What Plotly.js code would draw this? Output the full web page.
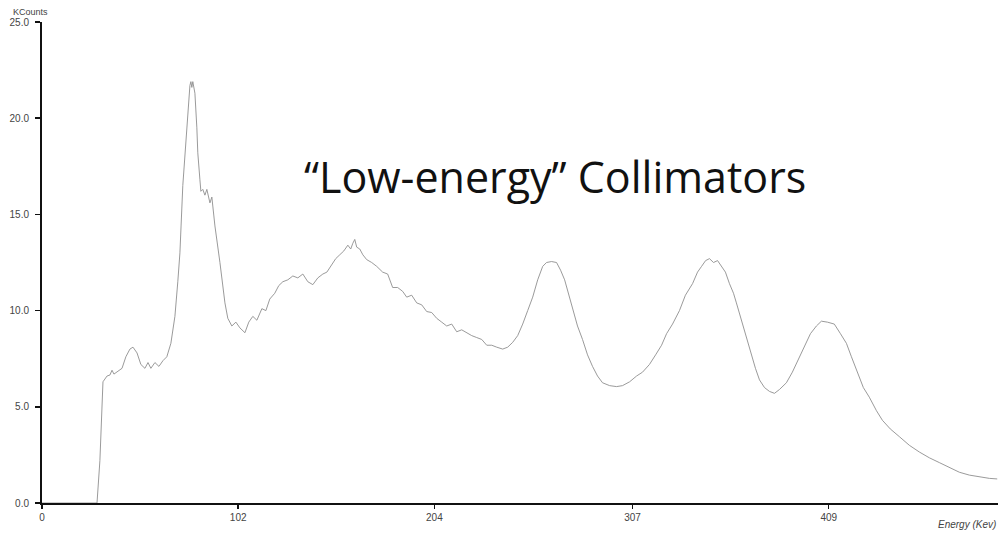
<!DOCTYPE html>
<html>
<head>
<meta charset="utf-8">
<script src="https://cdn.plot.ly/plotly-3.0.1.min.js"></script>
<style>html,body{margin:0;padding:0;background:#fff}#chart{width:999px;height:534px}</style>
</head>
<body>
<div id="chart"></div>
<script>
// Energy (keV) and counts (KCounts)
const energy = [0,28.0,28.6,30.1,31.2,31.7,33.8,35.3,36.4,37.4,39.5,41.6,43.6,45.7,47.3,49.4,51.4,53.5,55.1,56.6,58.7,60.8,62.9,64.9,67.0,69.1,70.6,71.7,73.2,74.8,75.8,76.9,77.4,77.9,78.4,79.5,80.5,81.0,82.1,82.6,83.6,84.7,85.7,86.2,87.3,88.3,89.9,92.5,95.1,96.6,98.7,100.8,102.9,105.5,107.5,109.6,111.7,114.3,116.4,118.4,121.0,123.1,125.2,127.8,130.4,133.0,135.6,138.2,140.8,143.4,146.0,148.1,150.6,152.7,154.8,156.9,159.0,160.5,161.6,162.6,163.6,165.2,166.8,168.8,171.4,174.0,177.1,179.7,182.3,184.9,187.5,189.6,192.2,194.8,197.4,200.0,202.6,205.2,207.8,210.4,213.0,215.6,218.2,220.8,223.4,226.0,228.6,231.2,233.8,236.4,239.5,242.1,244.7,247.3,249.9,252.5,255.1,257.7,260.3,262.3,264.9,267.5,269.6,271.7,273.8,275.8,278.4,281.0,283.6,286.2,288.8,291.4,295.1,298.7,301.8,305.5,309.1,312.2,315.8,319.0,322.1,324.7,327.8,331.4,334.5,338.2,340.8,342.9,345.0,347.0,349.1,351.2,353.2,355.3,357.4,359.5,361.0,363.6,366.2,368.8,370.9,373.0,375.6,378.2,380.8,383.4,387.0,390.1,393.8,396.9,399.5,402.6,405.2,408.3,411.9,415.1,418.2,420.8,423.4,427.0,430.1,433.8,436.9,441.0,445.7,450.9,456.1,461.3,466.5,471.7,476.9,482.1,487.3,492.5,496.6];
const kcounts = [0,0,0,2.2,4.8,6.3,6.6,6.65,6.9,6.7,6.85,7.0,7.6,8.0,8.1,7.8,7.2,7.0,7.3,7.0,7.3,7.1,7.4,7.6,8.3,9.7,11.5,13.0,16.5,19.0,20.5,21.7,21.9,21.6,21.9,21.3,19.5,18.2,16.8,16.2,16.3,16.0,16.3,16.1,15.6,15.9,14.4,12.5,10.4,9.6,9.2,9.4,9.1,8.85,9.4,9.7,9.5,10.1,10.0,10.6,10.9,11.3,11.5,11.6,11.8,11.7,11.9,11.5,11.35,11.7,11.9,12.0,12.4,12.7,12.9,13.1,13.4,13.2,13.5,13.7,13.3,13.2,12.9,12.65,12.5,12.3,12.0,11.9,11.2,11.2,11.0,10.7,10.8,10.4,10.3,9.95,9.9,9.6,9.4,9.2,9.3,8.9,9.0,8.85,8.7,8.6,8.5,8.2,8.2,8.1,8.0,8.1,8.35,8.7,9.3,10.0,10.7,11.6,12.3,12.5,12.55,12.5,12.1,11.6,10.8,10.1,9.2,8.5,7.7,7.1,6.6,6.25,6.1,6.05,6.1,6.3,6.6,6.8,7.2,7.7,8.2,8.8,9.3,10.0,10.8,11.4,12.0,12.3,12.6,12.7,12.5,12.6,12.3,12.0,11.4,10.9,10.4,9.5,8.7,7.7,7.0,6.4,6.0,5.8,5.7,5.9,6.25,6.8,7.6,8.3,8.8,9.2,9.45,9.4,9.3,8.8,8.3,7.6,6.9,6.0,5.5,4.8,4.3,3.85,3.45,3.0,2.65,2.35,2.1,1.85,1.6,1.45,1.35,1.28,1.25];
const xTickVals = [0,102,204,307,409];
const xTickText = ['0','102','204','307','409'];
const yTickVals = [0,5,10,15,20,25];
const yTickText = ['0.0','5.0','10.0','15.0','20.0','25.0'];

const trace = {
  x: energy, y: kcounts, type: 'scatter', mode: 'lines',
  line: {color: '#8f8f8f', width: 0.9}, hoverinfo: 'skip'
};
const tickFont = {family: 'Liberation Sans, Arial, sans-serif', size: 10, color: '#444'};
const layout = {
  width: 999, height: 534,
  margin: {l: 42, r: 1, t: 22, b: 31},
  paper_bgcolor: '#fff', plot_bgcolor: '#fff',
  showlegend: false,
  xaxis: {
    range: [0, 497], tickvals: xTickVals, ticktext: xTickText,
    showgrid: false, zeroline: false, showline: true, linecolor: '#111', linewidth: 2,
    ticks: 'outside', ticklen: 4, tickcolor: '#111', tickwidth: 1.5,
    tickfont: tickFont
  },
  yaxis: {
    range: [0, 25], tickvals: yTickVals, ticktext: yTickText,
    showgrid: false, zeroline: false, showline: true, linecolor: '#111', linewidth: 2,
    ticks: 'outside', ticklen: 5, tickcolor: '#111', tickwidth: 1.5,
    ticklabelstandoff: 4,
    tickfont: tickFont
  },
  annotations: [
    {text: 'KCounts', xref: 'paper', yref: 'paper', x: -0.002, y: 1.0, xanchor: 'right', yanchor: 'bottom', yshift: 3, xshift: 10,
     showarrow: false, font: {family: 'Liberation Sans, Arial, sans-serif', size: 9, color: '#444'}},
    {text: '<i>Energy (Kev)</i>', xref: 'paper', yref: 'paper', x: 1.0, y: 0, xanchor: 'right', yanchor: 'top', yshift: -14,
     showarrow: false, font: {family: 'Liberation Sans, Arial, sans-serif', size: 10, color: '#444'}},
    {text: '“Low-energy” Collimators', xref: 'paper', yref: 'paper', x: 0.537, y: 0.678, xanchor: 'center', yanchor: 'middle',
     showarrow: false, font: {family: 'Open Sans, sans-serif', size: 43, color: '#111'}}
  ]
};
Plotly.newPlot('chart', [trace], layout, {staticPlot: true, displayModeBar: false});
</script>
</body>
</html>
